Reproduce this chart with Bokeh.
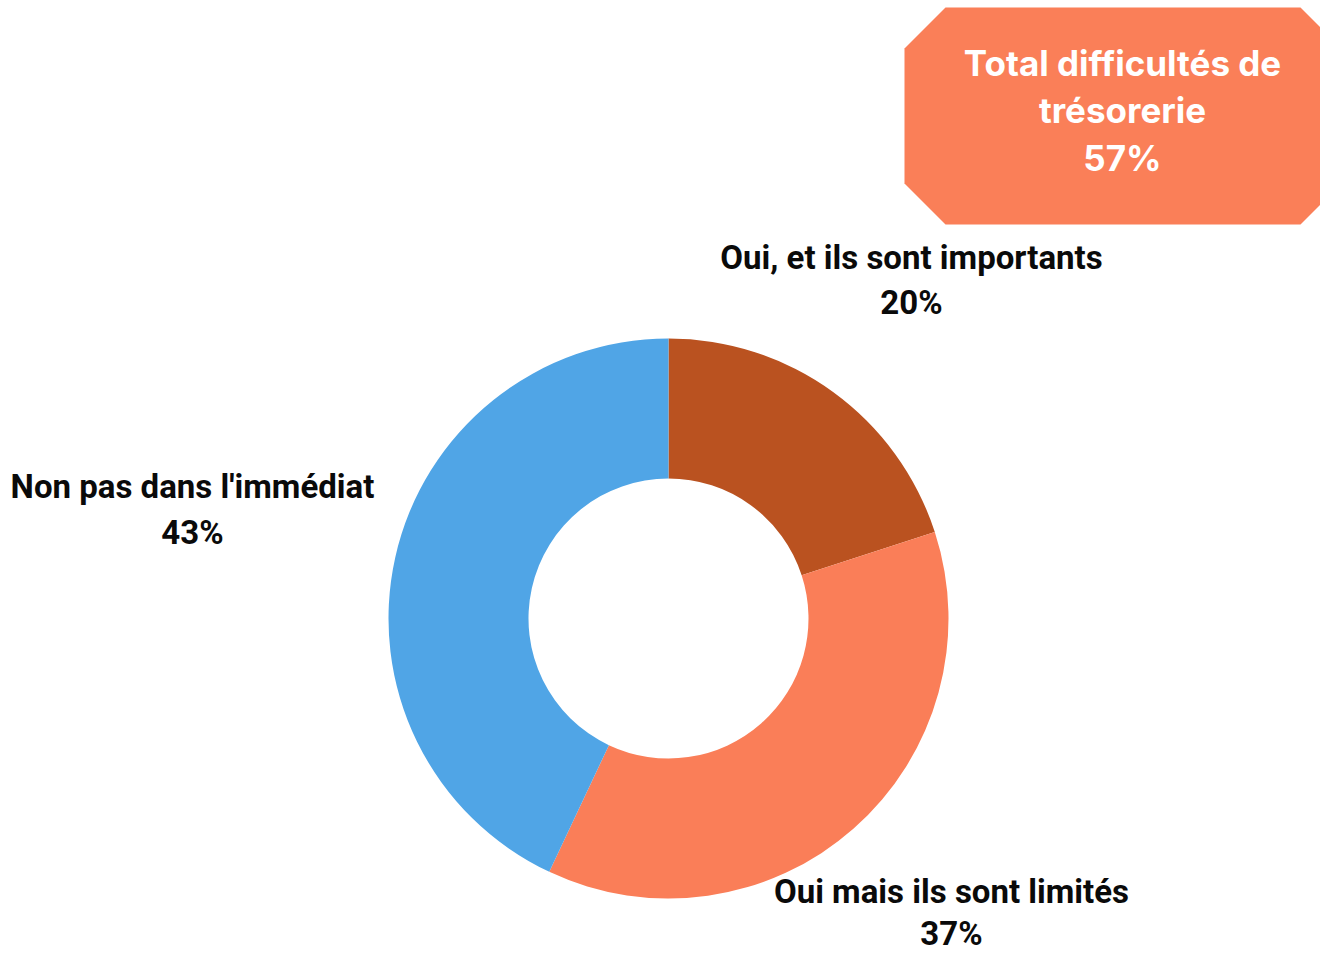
import math
from bokeh.plotting import figure
from bokeh.models import ColumnDataSource, Range1d
from bokeh.core.properties import value
from bokeh.embed import file_html
from bokeh.resources import INLINE

# ---- data ----
categories = ["Oui, et ils sont importants", "Oui mais ils sont limités", "Non pas dans l'immédiat"]
shares = [20, 37, 43]
colors = ["#BA5220", "#FA7E58", "#50A5E6"]
total_label = ["Total difficultés de", "trésorerie", "57%"]

W, H = 1320, 955

def px(X, Y):
    """screen pixel (from top-left) -> data coords"""
    return X, H - Y

p = figure(width=W, height=H, output_backend="svg", toolbar_location=None,
           x_range=Range1d(0, W), y_range=Range1d(0, H), min_border=0)
p.axis.visible = False
p.grid.visible = False
p.outline_line_color = None
p.background_fill_color = "white"
p.border_fill_color = "white"

# ---- donut ----
cx, cy = px(668, 618)
tot = sum(shares)
starts, ends = [], []
cum = 0
for s in shares:
    starts.append(math.pi / 2 - 2 * math.pi * cum / tot)
    cum += s
    ends.append(math.pi / 2 - 2 * math.pi * cum / tot)
src = ColumnDataSource(dict(start=starts, end=ends, color=colors,
                            x=[cx] * 3, y=[cy] * 3))
p.annular_wedge(x="x", y="y", inner_radius=140, outer_radius=280,
                start_angle="start", end_angle="end", direction="clock",
                fill_color="color", line_color=None, source=src)

# ---- labels ----
label_pos = [(911, 257, 45), (951, 891, 42), (192, 486, 46)]
lx, ly, lt = [], [], []
for cat, s, (X, Y, gap) in zip(categories, shares, label_pos):
    x, y = px(X, Y)
    lx += [x, x]
    ly += [y, y - gap]
    lt += [cat, f"{s}%"]
p.text(x=lx, y=ly, text=lt, text_align="center", text_baseline="middle",
       text_font=value("Roboto"), text_font_style="bold", text_font_size="33px",
       text_color="#0a0a0a")

# ---- total box (octagon) ----
x0, x1, y0, y1, c = 904, 1341, 7, 224, 41
bx = [x0 + c, x1 - c, x1, x1, x1 - c, x0 + c, x0, x0]
by = [y0, y0, y0 + c, y1 - c, y1, y1, y1 - c, y0 + c]
pts = [px(X, Y) for X, Y in zip(bx, by)]
p.patch([q[0] for q in pts], [q[1] for q in pts], fill_color="#FA7F58", line_color=None)

tx, _ = px(1122, 0)
tys = [62, 109, 157]
p.text(x=[tx] * 3, y=[px(0, Y)[1] for Y in tys], text=total_label,
       text_align="center", text_baseline="middle",
       text_font=value("Inter"), text_font_style="bold", text_font_size="35px",
       text_color="white")

open("out.html", "w").write(file_html(p, INLINE))
